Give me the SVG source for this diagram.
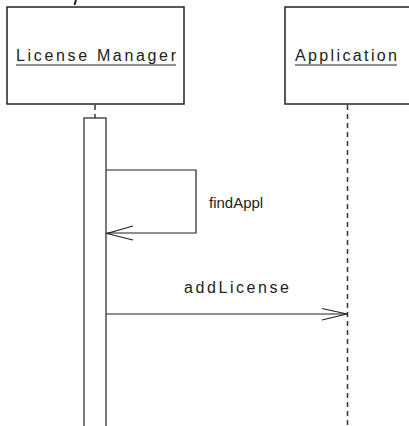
<svg xmlns="http://www.w3.org/2000/svg" width="409" height="426" viewBox="0 0 409 426">
<style>
.box{fill:#fff;stroke:#222;stroke-width:1.5}
.act{fill:#fff;stroke:#333;stroke-width:1.3}
.lbl{font-family:"Liberation Sans",Arial,sans-serif;font-size:16px;fill:#222}
.ln{fill:none;stroke:#222;stroke-width:1.2}
.life{fill:none;stroke:#333;stroke-width:1.5;stroke-dasharray:5,4}
</style>
<rect width="409" height="426" fill="#fff"/>
<line x1="76" y1="0" x2="74.5" y2="5" stroke="#222" stroke-width="2"/>
<g id="lifelines">
<line class="life" x1="95" y1="105" x2="95" y2="118"/>
<line class="life" x1="347.5" y1="105" x2="347.5" y2="426"/>
</g>
<g id="licenseManager">
<rect class="box" x="7" y="7" width="177" height="97"/>
<text class="lbl" x="16" y="61" textLength="160" lengthAdjust="spacing">License Manager</text>
<line x1="16" y1="65" x2="176" y2="65" stroke="#222" stroke-width="1.2"/>
</g>
<g id="application">
<rect class="box" x="285" y="7" width="140" height="97"/>
<text class="lbl" x="295" y="61" textLength="102" lengthAdjust="spacing">Application</text>
<line x1="295" y1="65" x2="397" y2="65" stroke="#222" stroke-width="1.2"/>
</g>
<g id="activation">
<rect class="act" x="84" y="118" width="22" height="320"/>
</g>
<g id="connectors">
<path class="ln" d="M106 170 H196 V233 H107"/>
<path class="ln" d="M133 226 L107 233.5 L133 240"/>
<text class="lbl" x="209" y="208" style="font-size:15px">findAppl</text>
<line class="ln" x1="106" y1="314" x2="347" y2="314"/>
<path class="ln" d="M322 308.5 L347 314 L322 320"/>
<text class="lbl" x="184" y="293" textLength="105" lengthAdjust="spacing">addLicense</text>
</g>
</svg>
